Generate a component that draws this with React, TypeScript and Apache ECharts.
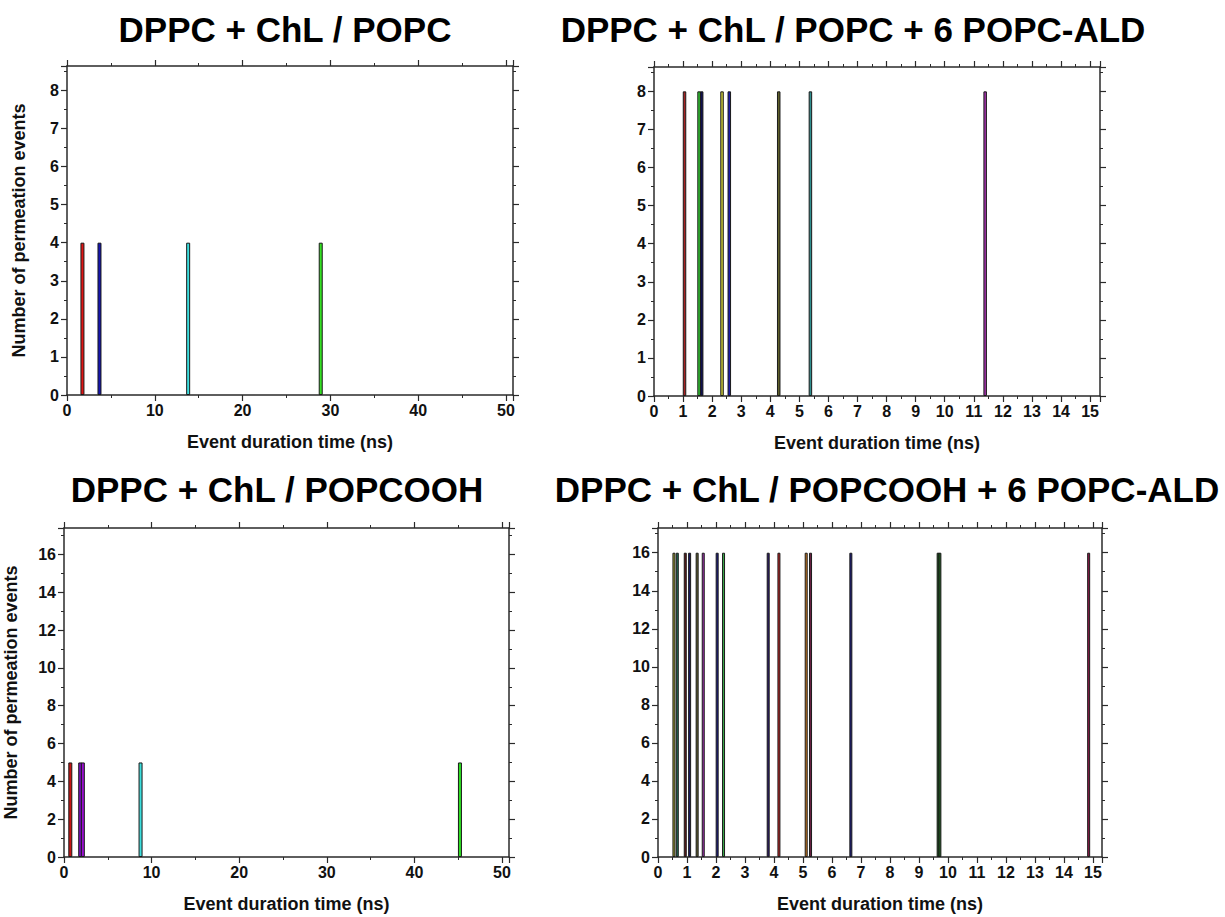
import React, { useEffect, useRef } from 'react';
import * as echarts from 'echarts';

// ---------- texts ----------
const panelTitles = [
  'DPPC + ChL / POPC',
  'DPPC + ChL / POPC + 6 POPC-ALD',
  'DPPC + ChL / POPCOOH',
  'DPPC + ChL / POPCOOH + 6 POPC-ALD',
];
const xAxisTitle = 'Event duration time (ns)';
const yAxisTitle = 'Number of permeation events';

// ---------- data ----------
// Panel A: DPPC + ChL / POPC
const aTimes = [1.76, 3.7, 13.8, 28.9];
const aCounts = [4, 4, 4, 4];
const aColors = ['#e01515', '#1515b0', '#3ddede', '#33e022'];

// Panel B: DPPC + ChL / POPC + 6 POPC-ALD
const bTimes = [1.05, 1.55, 1.64, 2.34, 2.59, 4.29, 5.38, 11.39];
const bCounts = [8, 8, 8, 8, 8, 8, 8, 8];
const bColors = ['#a52222', '#33cc33', '#101050', '#c8c83a', '#1a1aa8', '#5f5f2a', '#2f8f8f', '#a030a8'];

// Panel C: DPPC + ChL / POPCOOH
const cTimes = [0.72, 1.85, 2.15, 8.74, 45.2];
const cCounts = [5, 5, 5, 5, 5];
const cColors = ['#c81414', '#7a10c0', '#9a10d0', '#3ddede', '#2ee022'];

// Panel D: DPPC + ChL / POPCOOH + 6 POPC-ALD
const dTimes = [0.55, 0.665, 0.94, 1.09, 1.35, 1.56, 2.04, 2.26, 3.8, 4.17, 5.11, 5.26, 6.65, 9.66, 9.72, 14.85];
const dCounts = [16, 16, 16, 16, 16, 16, 16, 16, 16, 16, 16, 16, 16, 16, 16, 16];
const dColors = [
  '#9a9a30', '#1f6a55', '#5e1a1a', '#1a1a66', '#5f5f30', '#9a30aa', '#1a1a80', '#3aaa4a',
  '#2a1a66', '#c02222', '#c87a22', '#6a2244', '#1a1a77', '#1a5a1a', '#1f5f1f', '#8a1a48',
];

// ---------- axis ranges ----------
const xMaxWide = 50.8;
const xMaxNarrowB = 15.34;
const xMaxNarrowD = 15.31;
const yMaxB8 = 8.64;
const yMaxC = 17.4;
const yMaxD = 17.3;

const FONT = '"Liberation Sans", Arial, Helvetica, sans-serif';

type Panel = {
  times: number[];
  counts: number[];
  colors: string[];
  grid: { left: number; top: number; width: number; height: number };
  xMax: number;
  xInterval: number;
  yMax: number;
  yInterval: number;
  barWidth: number;
  showYName: boolean;
  yNameGap: number;
  title: string;
  titleX: number;
  titleY: number;
};

const panels: Panel[] = [
  {
    times: aTimes, counts: aCounts, colors: aColors,
    grid: { left: 67, top: 66, width: 446, height: 329 },
    xMax: xMaxWide, xInterval: 10, yMax: yMaxB8, yInterval: 1, barWidth: 4,
    showYName: true, yNameGap: 39, title: panelTitles[0], titleX: 285, titleY: 29,
  },
  {
    times: bTimes, counts: bCounts, colors: bColors,
    grid: { left: 654, top: 67, width: 446, height: 329 },
    xMax: xMaxNarrowB, xInterval: 1, yMax: yMaxB8, yInterval: 1, barWidth: 3.5,
    showYName: false, yNameGap: 36, title: panelTitles[1], titleX: 853, titleY: 29,
  },
  {
    times: cTimes, counts: cCounts, colors: cColors,
    grid: { left: 64, top: 528, width: 445, height: 329 },
    xMax: xMaxWide, xInterval: 10, yMax: yMaxC, yInterval: 2, barWidth: 4,
    showYName: true, yNameGap: 44, title: panelTitles[2], titleX: 277, titleY: 489,
  },
  {
    times: dTimes, counts: dCounts, colors: dColors,
    grid: { left: 658, top: 528, width: 444, height: 329 },
    xMax: xMaxNarrowD, xInterval: 1, yMax: yMaxD, yInterval: 2, barWidth: 3,
    showYName: false, yNameGap: 36, title: panelTitles[3], titleX: 887, titleY: 489,
  },
];

const axisColor = '#2a2a2a';

function hideOffStep(step: number) {
  return (v: number) => {
    const r = v / step;
    return Math.abs(r - Math.round(r)) < 1e-6 ? String(Math.round(v)) : '';
  };
}

function buildOption() {
  const grid: any[] = [];
  const xAxis: any[] = [];
  const yAxis: any[] = [];
  const series: any[] = [];
  const graphic: any[] = [];

  panels.forEach((p, i) => {
    grid.push({ ...p.grid, containLabel: false });
    const baseAxisLine = { show: true, onZero: false, lineStyle: { color: axisColor, width: 1.5 } };
    const tick = { show: true, length: 6, lineStyle: { color: axisColor, width: 1.2 } };
    const minor = { show: true, splitNumber: 2, length: 3, lineStyle: { color: axisColor, width: 1 } };
    const labelStyle = { fontFamily: FONT, fontWeight: 'bold', fontSize: 16, color: '#111' };

    // bottom x
    xAxis.push({
      gridIndex: i, type: 'value', position: 'bottom', min: 0, max: p.xMax, interval: p.xInterval,
      name: xAxisTitle, nameLocation: 'middle', nameGap: 38,
      nameTextStyle: { fontFamily: FONT, fontWeight: 'bold', fontSize: 18, color: '#111' },
      axisLine: baseAxisLine, axisTick: tick, minorTick: minor,
      axisLabel: { ...labelStyle, margin: 7, formatter: hideOffStep(p.xInterval) },
      splitLine: { show: false }, minorSplitLine: { show: false },
    });
    // top x
    xAxis.push({
      gridIndex: i, type: 'value', position: 'top', min: 0, max: p.xMax, interval: p.xInterval,
      axisLine: baseAxisLine, axisTick: tick, minorTick: minor,
      axisLabel: { show: false }, splitLine: { show: false },
    });
    // left y
    yAxis.push({
      gridIndex: i, type: 'value', position: 'left', min: 0, max: p.yMax, interval: p.yInterval,
      name: p.showYName ? yAxisTitle : '', nameLocation: 'middle', nameGap: p.yNameGap,
      nameTextStyle: { fontFamily: FONT, fontWeight: 'bold', fontSize: 18, color: '#111' },
      axisLine: baseAxisLine, axisTick: tick, minorTick: minor,
      axisLabel: { ...labelStyle, margin: 8, formatter: hideOffStep(p.yInterval) },
      splitLine: { show: false },
    });
    // right y
    yAxis.push({
      gridIndex: i, type: 'value', position: 'right', min: 0, max: p.yMax, interval: p.yInterval,
      axisLine: baseAxisLine, axisTick: tick, minorTick: minor,
      axisLabel: { show: false }, splitLine: { show: false },
    });

    series.push({
      type: 'bar',
      xAxisIndex: i * 2,
      yAxisIndex: i * 2,
      barWidth: p.barWidth,
      data: p.times.map((t, k) => ({
        value: [t, p.counts[k]],
        itemStyle: { color: p.colors[k], borderColor: '#1a1a1a', borderWidth: 1 },
      })),
    });

    graphic.push({
      type: 'text',
      x: p.titleX,
      y: p.titleY,
      style: {
        text: p.title,
        fontFamily: FONT,
        fontWeight: 'bold',
        fontSize: 35,
        fill: '#000',
        textAlign: 'center',
        textVerticalAlign: 'middle',
      },
    });
  });

  return {
    animation: false,
    backgroundColor: '#ffffff',
    grid,
    xAxis,
    yAxis,
    series,
    graphic,
  };
}

export default function App() {
  const ref = useRef<HTMLDivElement>(null);
  useEffect(() => {
    if (!ref.current) return;
    const chart = echarts.init(ref.current, undefined, { renderer: 'svg' });
    chart.setOption(buildOption() as any);
    return () => chart.dispose();
  }, []);
  return (
    <div
      ref={ref}
      style={{ position: 'absolute', left: 0, top: 0, width: 1225, height: 917, background: '#fff' }}
    />
  );
}
